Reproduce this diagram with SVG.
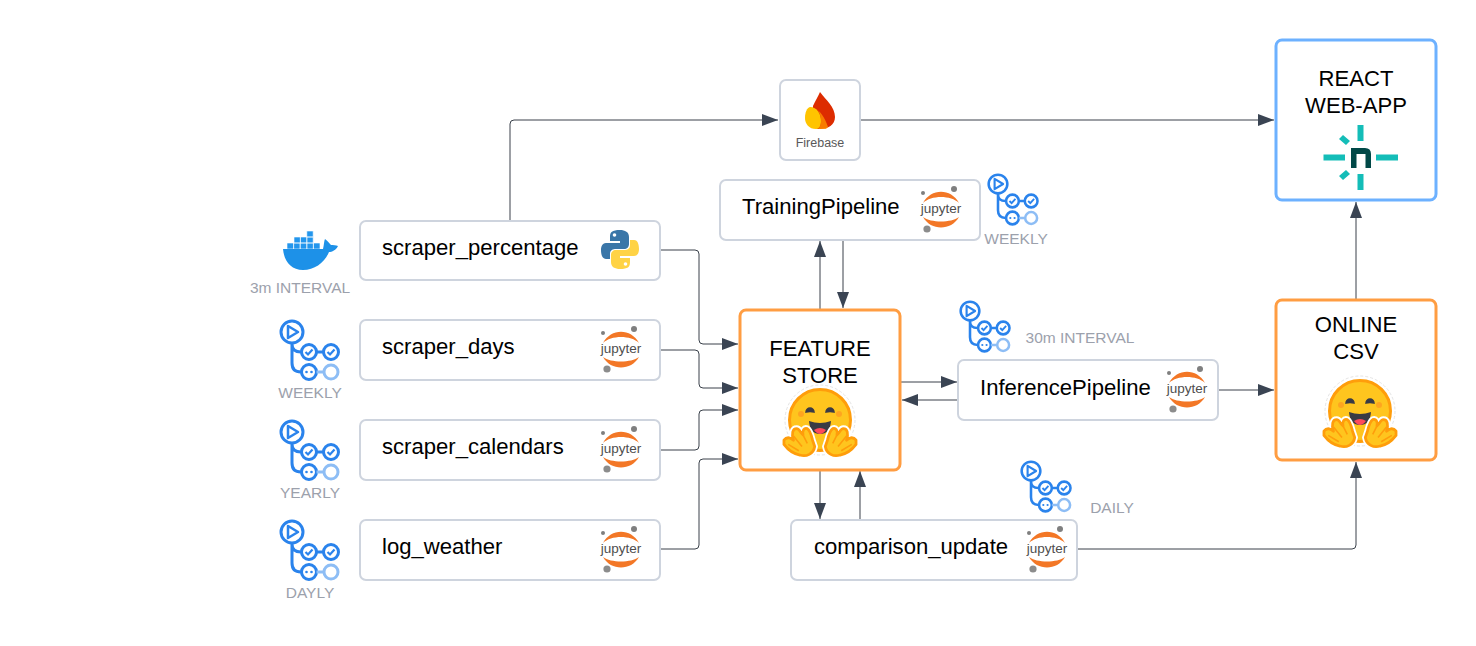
<svg xmlns="http://www.w3.org/2000/svg" xmlns:xlink="http://www.w3.org/1999/xlink" width="1476" height="646" viewBox="0 0 1476 646">
<style>
text{font-family:"Liberation Sans",Arial,sans-serif}
.box{fill:#fff;stroke:#ced4de;stroke-width:2}
.or{fill:#fff;stroke:#ff9d42;stroke-width:3}
.bl{fill:#fff;stroke:#6db1ff;stroke-width:3}
.t{font-size:22.1px;fill:#000}
.c{font-size:22.1px;fill:#000;text-anchor:middle}
.g{font-size:15.5px;fill:#9ca1ac;text-anchor:middle}
.ln{fill:none;stroke:#3a414a;stroke-width:1;marker-end:url(#ah)}
.ga{fill:none;stroke:#2a83ec;stroke-width:3}
.ha{fill:#ffc51e;stroke:#ff9d0b;stroke-width:2.6;stroke-linejoin:round}
</style>
<defs>
<marker id="ah" markerUnits="userSpaceOnUse" markerWidth="17" markerHeight="14" refX="16" refY="6" orient="auto"><path d="M0,0L16,6L0,12Z" fill="#3a4453"/></marker>
<g id="jup">
<circle cx="-18" cy="-15" r="2" fill="#7f7f7f"/><circle cx="13" cy="-19" r="3" fill="#7f7f7f"/><circle cx="-14" cy="21" r="3.600" fill="#8c8c8c"/>
<path d="M-18,-5C-10,-20 10,-20 18,-5C10,-13 -10,-13 -18,-5Z" fill="#f37726"/>
<path d="M-18,9C-10,23 10,23 18,9C10,15 -10,15 -18,9Z" fill="#f37726"/>
<text x="0" y="4.500" text-anchor="middle" style="font-size:13.500px;fill:#4e4e4e">jupyter</text>
</g>
<g id="gha">
<path class="ga" d="M0,11V31Q0,40 9,40M0,11V12Q0,20 9,20M24.500,20H31.500"/>
<circle class="ga" cx="0" cy="0" r="11"/>
<path d="M-4,-6L6,0L-4,6Z" fill="none" stroke="#2a83ec" stroke-width="2.500" stroke-linejoin="round"/>
<circle class="ga" cx="17" cy="20" r="7.500"/><circle class="ga" cx="39" cy="20" r="7.500"/><circle class="ga" cx="17" cy="40" r="7.500"/>
<circle cx="39" cy="40" r="7" fill="none" stroke="#8dbdf5" stroke-width="3"/>
<path d="M24.500,40H32" stroke="#8dbdf5" stroke-width="3"/>
<path d="M13.500,20L16,22.500L20.500,17.500M35.500,20L38,22.500L42.500,17.500" fill="none" stroke="#2a83ec" stroke-width="2.200"/>
<circle cx="14.500" cy="40" r="1.300" fill="#2a83ec"/><circle cx="19.500" cy="40" r="1.300" fill="#2a83ec"/>
</g>
<g id="hug">
<circle cx="0" cy="-2" r="35" fill="#fff" stroke="#e4e4e4" stroke-width="1" stroke-dasharray="3 2"/>
<circle cx="0" cy="-2" r="30.500" fill="#ffc51e" stroke="#ff9d0b" stroke-width="3"/>
<circle cx="-19" cy="-8" r="3" fill="#ffa51f"/><circle cx="19" cy="-8" r="3" fill="#ffa51f"/>
<path d="M-14,-10a4,4 0 0 1 8,0q-4,-1 -8,0Z" fill="#3a3b45" stroke="#3a3b45" stroke-width="1.500"/>
<path d="M6,-10a4,4 0 0 1 8,0q-4,-1 -8,0Z" fill="#3a3b45" stroke="#3a3b45" stroke-width="1.500"/>
<path d="M-11,-1Q0,3 11,-1Q10,12 0,12Q-10,12 -11,-1Z" fill="#3a3b45"/>
<path d="M-6,8Q0,4 6,8Q3,12 0,12Q-3,12 -6,8Z" fill="#ff4a5b"/>
<g transform="translate(0,-3) scale(1.060)">
<path d="M-34,20C-31,16 -27,18 -25,20C-27,14 -26,9 -22,9C-19,9 -19,13 -16,15C-17,11 -15,8 -12,9C-9,11 -8,16 -7,20L-5,26C-6,33 -13,36 -19,34C-25,33 -31,28 -34,24Z" fill="none" stroke="#fff" stroke-width="6"/>
<path d="M34,20C31,16 27,18 25,20C27,14 26,9 22,9C19,9 19,13 16,15C17,11 15,8 12,9C9,11 8,16 7,20L5,26C6,33 13,36 19,34C25,33 31,28 34,24Z" fill="none" stroke="#fff" stroke-width="6"/>
<path class="ha" d="M-34,20C-31,16 -27,18 -25,20C-27,14 -26,9 -22,9C-19,9 -19,13 -16,15C-17,11 -15,8 -12,9C-9,11 -8,16 -7,20L-5,26C-6,33 -13,36 -19,34C-25,33 -31,28 -34,24Z"/>
<path class="ha" d="M34,20C31,16 27,18 25,20C27,14 26,9 22,9C19,9 19,13 16,15C17,11 15,8 12,9C9,11 8,16 7,20L5,26C6,33 13,36 19,34C25,33 31,28 34,24Z"/>
<path d="M-30,24L-20,30M-25,16L-17,26M-17,13L-12,23M30,24L20,30M25,16L17,26M17,13L12,23" stroke="#ff9d0b" stroke-width="1.500" fill="none"/>
</g>
</g>
</defs>
<rect width="1476" height="646" fill="#fff"/>
<g id="connectors">
<path class="ln" d="M510,220V124Q510,120 514,120H778"/>
<path class="ln" d="M861,120H1274"/>
<path class="ln" d="M661,250H695Q699,250 699,254V340Q699,344 703,344H738"/>
<path class="ln" d="M661,350H695Q699,350 699,354V384Q699,388 703,388H738"/>
<path class="ln" d="M661,450H695Q699,450 699,446V414Q699,410 703,410H738"/>
<path class="ln" d="M661,549H695Q699,549 699,545V463Q699,459 703,459H738"/>
<path class="ln" d="M820,309V241"/>
<path class="ln" d="M843,240V308"/>
<path class="ln" d="M901,382H957"/>
<path class="ln" d="M957,400H902"/>
<path class="ln" d="M1219,390H1274"/>
<path class="ln" d="M1356,299V202"/>
<path class="ln" d="M820,471V519"/>
<path class="ln" d="M860,519V471"/>
<path class="ln" d="M1078,549H1352Q1356,549 1356,545V462"/>
</g>
<g id="firebase">
<rect class="box" x="780" y="80" width="80" height="80" rx="6"/>
<path d="M820,92C826,100 835,107 835,117C835,125 828,129 820,129C816,129 813,127 812,124L813,106C815,101 818,97 820,92Z" fill="#dd2c00"/>
<path d="M810,107C817,107 821,114 821,121C821,126 819,129 816,129C809,129 805,124 805,118C805,112 807,108 810,107Z" fill="#ffc400"/>
<path d="M813,107C819,109 821,115 821,121C821,125 820,127 818,129H826L828,127C825,118 820,110 813,107Z" fill="#ff9100" opacity=".8"/>
<text x="820" y="147" text-anchor="middle" style="font-size:12.500px;fill:#595959">Firebase</text>
</g>
<g id="react-web-app">
<rect class="bl" x="1276" y="40" width="160" height="160" rx="6"/>
<text class="c" x="1356" y="86">REACT</text>
<text class="c" x="1356" y="113">WEB-APP</text>
<path d="M1357.500,125h6v16h-6zM1357.500,174h6v16h-6zM1323.500,154.500h21.500v6h-21.500zM1376,154.500h22v6h-22zM1339,139l4,-4l7,6l-4,4zM1339,176l4,4l7,-6l-4,-4z" fill="#14bdb8"/>
<path d="M1351,168V148H1365Q1371,148 1371,154V168H1365.500V154H1356.500V168Z" fill="#014847"/>
</g>
<g id="training-pipeline">
<rect class="box" x="720" y="180" width="260" height="60" rx="6"/>
<text class="t" x="742" y="214">TrainingPipeline</text>
<use href="#jup" x="941" y="208"/>
<use href="#gha" transform="translate(998,184) scale(.85)"/>
<text class="g" x="1016" y="244">WEEKLY</text>
</g>
<g id="scraper-percentage">
<rect class="box" x="360" y="221" width="300" height="59" rx="6"/>
<text class="t" x="382" y="255">scraper_percentage</text>
<path d="M620,230C612,230 610,232 610,237V241H620V243H606C602,243 601,247 601,250C601,254 602,259 606,259H610V254C610,250 613,249 616,249H624C627,249 629,247 629,244V237C629,232 625,230 620,230Z" fill="#3a76a8"/>
<circle cx="614.500" cy="235" r="1.800" fill="#fff"/>
<path d="M620,269C628,269 630,267 630,262V258H620V256H634C638,256 639,252 639,249C639,245 638,240 634,240H630V245C630,249 627,250 624,250H616C613,250 611,252 611,255V262C611,267 615,269 620,269Z" fill="#ffd345"/>
<circle cx="625.500" cy="264" r="1.800" fill="#fff"/>
<path d="M287,243h6.600v6h-6.600zM293.600,243h6.600v6h-6.600zM300.200,243h6.600v6h-6.600zM306.800,243h6.600v6h-6.600zM313.400,243h6.600v6h-6.600zM294,237h6.400v6h-6.400zM300.400,237h6.400v6h-6.400zM306.800,237h6.400v6h-6.400zM306.800,231h6.400v6h-6.400z" fill="#2396ed" stroke="#fff" stroke-width=".6"/>
<path d="M283,249H323C324,245 324,241 325,239C328,241 330,244 331,245C333,245 336,245 338,246C336,250 332,252 329,252C325,262 315,270 303,270C291,270 284,261 283,249Z" fill="#1d91e8"/>
<text class="g" x="300" y="293">3m INTERVAL</text>
</g>
<g id="scraper-days">
<rect class="box" x="360" y="320" width="300" height="60" rx="6"/>
<text class="t" x="382" y="354">scraper_days</text>
<use href="#jup" x="621" y="348"/>
<use href="#gha" x="292" y="332"/>
<text class="g" x="310" y="398">WEEKLY</text>
</g>
<g id="scraper-calendars">
<rect class="box" x="360" y="420" width="300" height="60" rx="6"/>
<text class="t" x="382" y="454">scraper_calendars</text>
<use href="#jup" x="621" y="448"/>
<use href="#gha" x="292" y="432"/>
<text class="g" x="310" y="498">YEARLY</text>
</g>
<g id="log-weather">
<rect class="box" x="360" y="520" width="300" height="60" rx="6"/>
<text class="t" x="382" y="554">log_weather</text>
<use href="#jup" x="621" y="548"/>
<use href="#gha" x="292" y="532"/>
<text class="g" x="310" y="598">DAYLY</text>
</g>
<g id="feature-store">
<rect class="or" x="740" y="310" width="160" height="160" rx="6"/>
<text class="c" x="820" y="356">FEATURE</text>
<text class="c" x="820" y="383">STORE</text>
<use href="#hug" x="820" y="422"/>
</g>
<g id="inference-pipeline">
<rect class="box" x="958" y="360" width="260" height="60" rx="6"/>
<text class="t" x="980" y="395">InferencePipeline</text>
<use href="#jup" x="1187" y="388"/>
<use href="#gha" transform="translate(970,311) scale(.85)"/>
<text class="g" x="1080" y="343">30m INTERVAL</text>
</g>
<g id="comparison-update">
<rect class="box" x="791" y="520" width="286" height="60" rx="6"/>
<text class="t" x="814" y="554">comparison_update</text>
<use href="#jup" x="1047" y="548"/>
<use href="#gha" transform="translate(1031,471) scale(.85)"/>
<text class="g" x="1112" y="513">DAILY</text>
</g>
<g id="online-csv">
<rect class="or" x="1276" y="300" width="160" height="160" rx="6"/>
<text class="c" x="1356" y="332">ONLINE</text>
<text class="c" x="1356" y="359">CSV</text>
<use href="#hug" x="1360" y="413"/>
</g>
</svg>
